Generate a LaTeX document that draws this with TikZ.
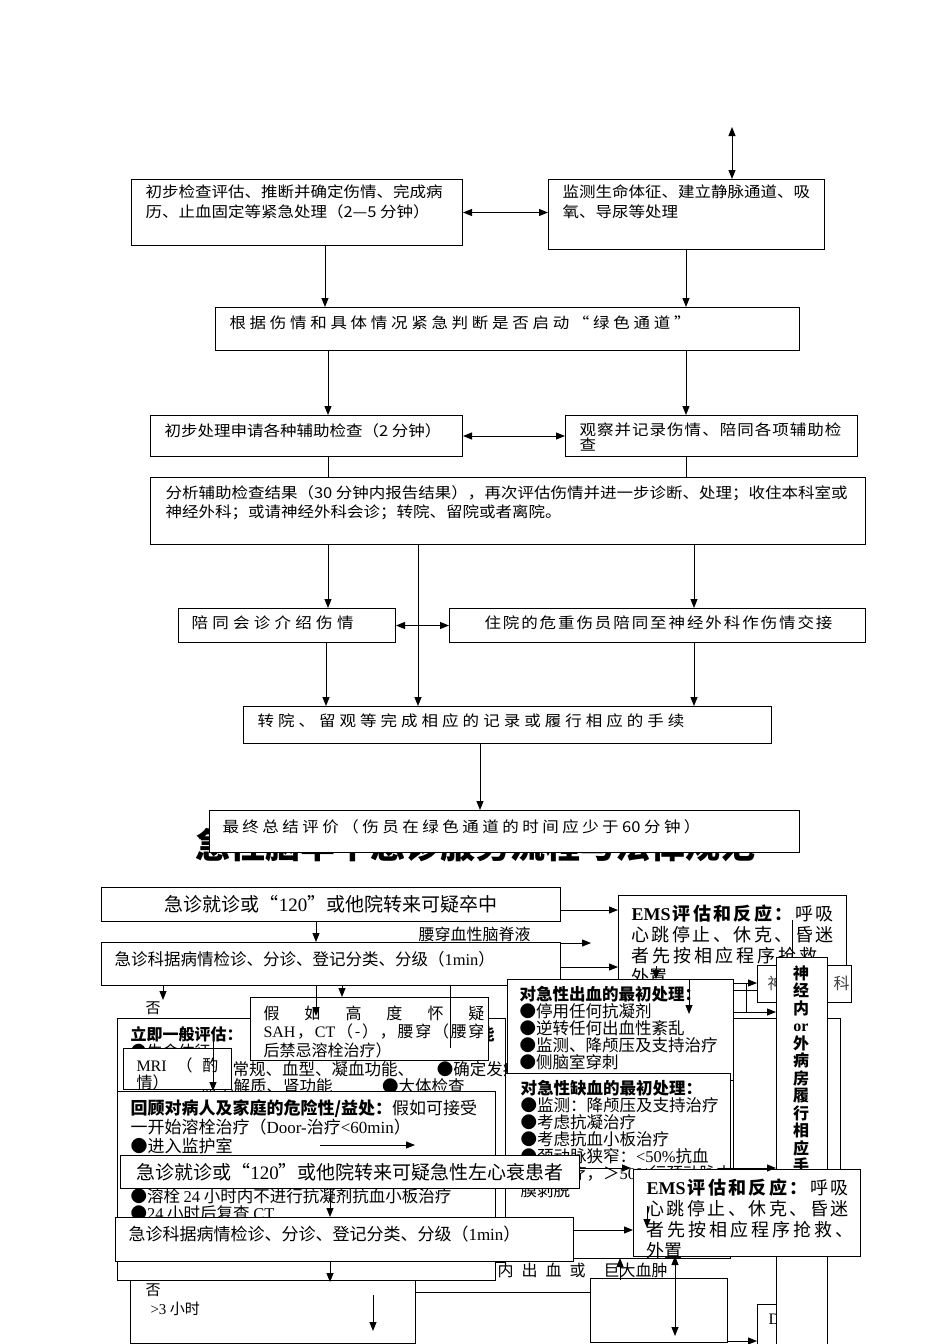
\documentclass[tikz,border=0pt]{standalone}
\usepackage{fontspec}
\setmainfont{Noto Sans CJK SC}
\newfontfamily\cjk[FakeStretch=1.1]{Noto Sans CJK SC}
\newfontfamily\lat{Liberation Serif}
\usetikzlibrary{arrows.meta}
\newcommand\LS[1]{{\lat #1}}
\newcommand\spr[2]{\hbox to #1pt{\sprA#2\relax\unskip}}
\def\sprA#1{\ifx\relax#1\else#1\hfil\expandafter\sprA\fi}
\newcommand\mybox[5]{\node[bx,minimum width={(#4-#2)*1pt},minimum height={(#5-#3)*1pt}] (#1) at (#2,#3) {};}
\begin{document}
\begin{tikzpicture}[x=1pt,y=-1pt,line width=1pt,
 bx/.style={draw,fill=white,inner sep=0,anchor=north west},
 tx/.style={anchor=north west,inner sep=0,align=left},
 ar/.style={-{Triangle[length=9pt,width=7pt]}},
 dar/.style={{Triangle[length=9pt,width=7pt]}-{Triangle[length=9pt,width=7pt]}},
 tf/.style={font=\fontsize{15}{20}\selectfont\cjk},
 fa/.style={font=\fontsize{16}{17}\selectfont},
 fb/.style={font=\fontsize{16.5}{17}\selectfont},
 fe/.style={font=\fontsize{18}{21}\selectfont}]
\useasboundingbox[fill=white] (0,0) rectangle (950,1344);
% title (behind last box of the first chart)
\node[inner sep=0,font=\fontsize{35}{35}\selectfont\bfseries] (title) at (475,845) {急性脑卒中急诊服务流程与法律规范};
% ---------- top chart ----------
\mybox{A}{131}{179}{462}{245}
\node[tx,tf] (At) at (145,184) {初步检查评估、推断并确定伤情、完成病\\历、止血固定等紧急处理（2—5 分钟）};
\mybox{B}{548}{179}{824}{249}
\node[tx,tf] (Bt) at (562,184) {监测生命体征、建立静脉通道、吸\\氧、导尿等处理};
\mybox{C}{215}{307}{799}{350}
\node[tx,tf] (Ct) at (229,315) {\spr{461}{根据伤情和具体情况紧急判断是否启动“绿色通道”}};
\mybox{D}{150}{415}{462}{456}
\node[tx,tf] (Dt) at (164,423) {初步处理申请各种辅助检查（2 分钟）};
\mybox{E}{565}{415}{857}{456}
\node[tx,font=\fontsize{15}{15}\selectfont\cjk] (Et) at (579,422) {\spr{262}{观察并记录伤情、陪同各项辅助检}\\查};
\mybox{F}{150}{477}{865}{544}
\node[tx,font=\fontsize{15}{19}\selectfont\cjk] (Ft) at (165,485) {分析辅助检查结果（30 分钟内报告结果），再次评估伤情并进一步诊断、处理；收住本科室或\\神经外科；或请神经外科会诊；转院、留院或者离院。};
\mybox{G}{178}{608}{395}{642}
\node[tx,tf] (Gt) at (191,615) {\spr{162}{陪同会诊介绍伤情}};
\mybox{H}{449}{608}{865}{642}
\node[tx,tf] (Ht) at (484,615) {\spr{348}{住院的危重伤员陪同至神经外科作伤情交接}};
\mybox{I}{243}{706}{771}{743}
\node[tx,tf] (It) at (257,713) {\spr{427}{转院、留观等完成相应的记录或履行相应的手续}};
\mybox{J}{209}{810}{799}{852}
\node[tx,tf] (Jt) at (222,819) {\spr{478}{最终总结评价（伤员在绿色通道的时间应少于{60}分钟）}};
% top connectors
\coordinate (t0) at (732,127);
\draw[dar] (t0) -- (t0 |- B.north);
\draw[dar] (A.east) -- (A.east -| B.west);
\coordinate (a1) at (325,245); \draw[ar] (a1) -- (a1 |- C.north);
\coordinate (b1) at (686,249); \draw[ar] (b1) -- (b1 |- C.north);
\coordinate (c1) at (328,350); \draw[ar] (c1) -- (c1 |- D.north);
\coordinate (c2) at (686,350); \draw[ar] (c2) -- (c2 |- E.north);
\draw[dar] (D.east) -- (D.east -| E.west);
\coordinate (d1) at (328,456); \draw (d1) -- (d1 |- F.north);
\coordinate (e1) at (686,456); \draw (e1) -- (e1 |- F.north);
\coordinate (f1) at (328,544); \draw[ar] (f1) -- (f1 |- G.north);
\coordinate (f2) at (418,544); \draw[ar] (f2) -- (f2 |- I.north);
\coordinate (f3) at (694,544); \draw[ar] (f3) -- (f3 |- H.north);
\draw[dar] (G.east) -- (G.east -| H.west);
\coordinate (g1) at (326,642); \draw[ar] (g1) -- (g1 |- I.north);
\coordinate (h1) at (694,642); \draw[ar] (h1) -- (h1 |- I.north);
\coordinate (i1) at (480,743); \draw[ar] (i1) -- (i1 |- J.north);
% ---------- bottom chart ----------
\mybox{K}{101}{887}{560}{921}
\node[inner sep=0,font=\fontsize{19}{20}\selectfont] (Kt) at (K.center) {急诊就诊或“\LS{120}”或他院转来可疑卒中};
\node[tx,fa] (ys) at (418,926) {腰穿血性脑脊液};
\mybox{L}{101}{942}{560}{985}
\node[tx,fb] (Lt) at (114,951) {急诊科据病情检诊、分诊、登记分类、分级（\LS{1min}）};
\mybox{M}{618}{895}{846}{990}
\node[tx,fe] (Mt) at (631,904) {\hbox to 202pt{\bfseries\sprA{\LS{EMS}}评估和反应：\relax\mdseries\sprA 呼吸\relax\unskip}\\\spr{202}{心跳停止、休克、昏迷}\\\spr{207}{者先按相应程序抢救、}\\外置};
\coordinate (m2) at (792,920); \draw (m2) -- ++(0,37);
\coordinate (k1) at (560,910); \draw[ar] (k1) -- (k1 -| M.west);
\coordinate (k2) at (316,921); \draw[ar] (k2) -- (k2 |- L.north);
\coordinate (l0) at (560,943); \coordinate (l0e) at (591,943); \draw[ar] (l0) -- (l0e);
\coordinate (l1) at (560,967); \draw[ar] (l1) -- (l1 -| M.west);
\mybox{X}{757}{965}{851}{1002}
\node[tx,fa,text=black!75] (Xt) at (767,976) {\spr{82}{神经外科}};
% general assessment box
\mybox{O}{117}{1018}{505}{1262}
\node[tx,fa] (Ot1) at (130,1026) {\textbf{立即一般评估：}\\●生命体征};
\node[tx,fb] (Ot3) at (232,1061) {常规、血型、凝血功能、\hspace{23pt}●确定发病时间};
\node[tx,fb] (Ot4) at (200,1078) {血电解质、肾功能　　　●大体检查};
\node[tx,fa] (Ot5) at (414,1026) {\textbf{●神经功能}};
% haemorrhage box
\mybox{U}{507}{979}{733}{1080}
\node[tx,fb] (Ut) at (519,986) {\textbf{对急性出血的最初处理：}\\●停用任何抗凝剂\\●逆转任何出血性紊乱\\●监测、降颅压及支持治疗\\●侧脑室穿刺};
\coordinate (m1) at (656,966); \draw[ar] (m1) -- (m1 |- U.north);
\coordinate (u1) at (689,980); \coordinate (u1e) at (689,1014); \draw[ar] (u1) -- (u1e);
\coordinate (u2) at (733,983); \draw[ar] (u2) -- (u2 -| X.west);
\coordinate (u3) at (746,983); \coordinate (u3e) at (746,1012); \draw (u3) -- (u3e);
\coordinate (u4) at (733,1012); \coordinate (u4e) at (776,1012); \draw[ar] (u4) -- (u4e);
% SAH box
\mybox{N}{250}{997}{488}{1060}
\node[tx,font=\fontsize{16}{18.5}\selectfont] (Nt) at (263,1005) {\spr{221}{假如高度怀疑}\\\spr{221}{{\LS{SAH}}，{\LS{CT}}（-），腰穿（腰穿}\\后禁忌溶栓治疗）};
\coordinate (n1) at (316,985); \coordinate (n1e) at (316,1016); \draw[ar] (n1) -- (n1e);
\coordinate (n2) at (342,985); \draw[ar] (n2) -- (n2 |- N.north);
\coordinate (n3) at (450,985); \coordinate (n3e) at (450,1048); \draw (n3) -- (n3e);
\coordinate (n4) at (163,985); \coordinate (n4e) at (163,1000); \draw[ar] (n4) -- (n4e);
\node[tx,font=\fontsize{15}{15}\selectfont] (no1) at (145,1001) {否};
% MRI box
\mybox{P}{123}{1048}{231}{1089}
\node[tx,fa] (Pt) at (136,1057) {\spr{82}{{\LS{MRI}}（酌}\\情）};
% >3h box (behind)
\mybox{T}{130}{1268}{415}{1343}
\node[tx,font=\fontsize{15}{15}\selectfont] (Tt1) at (145,1283) {否};
\node[tx,font=\fontsize{15}{15}\selectfont] (Tt2) at (150,1301) {\LS{>3} 小时};
\coordinate (t1) at (373,1295); \coordinate (t1e) at (373,1331); \draw[ar] (t1) -- (t1e);
\coordinate (t2) at (415,1292); \coordinate (t2e) at (590,1292); \draw (t2) -- (t2e);
% review box
\mybox{Q}{117}{1091}{495}{1280}
\node[tx,font=\fontsize{17}{19}\selectfont] (Qt) at (130,1099) {\textbf{回顾对病人及家庭的危险性/益处：}假如可接受\\一开始溶栓治疗（\LS{Door-}治疗\LS{<60min}）\\●进入监护室};
\node[tx,fb] (Qt2) at (130,1188) {●溶栓 \LS{24} 小时内不进行抗凝剂抗血小板治疗\\●\LS{24} 小时后复查 \LS{CT}};
\coordinate (q1) at (320,1145); \coordinate (q2) at (415,1145); \draw[ar] (q1) -- (q2);
\coordinate (p1) at (213,1035); \draw[ar] (p1) -- (p1 |- Q.north);
% ischaemia box
\mybox{V}{505}{1073}{730}{1258}
\node[tx,fb] (Vt) at (520,1080) {\textbf{对急性缺血的最初处理：}\\●监测：降颅压及支持治疗\\●考虑抗凝治疗\\●考虑抗血小板治疗\\●颈动脉狭窄：\LS{<50\%}抗血\\小板治疗，＞\LS{50\%}行颈动脉内\\膜剥脱};
% right column boxes
\mybox{Z}{733}{1018}{840}{1250}
\mybox{BB}{590}{1278}{727}{1342}
\node[tx,fa] (bt1) at (497,1263) {\spr{88}{内出血或}};
\node[tx,fa] (bt2) at (603,1263) {巨大血肿};
\mybox{DD}{757}{1304}{800}{1350}
\node[tx,font=\fontsize{16}{16}\selectfont\lat] (DDt) at (768,1314) {D};
\coordinate (dd1) at (727,1341); \draw[ar] (dd1) -- (dd1 -| DD.west);
\mybox{W}{776}{957}{827}{1350}
\node[anchor=north,inner sep=0,align=center,font=\fontsize{16}{17.5}\selectfont\bfseries] (Wt) at (801,965) {神\\经\\内\\\LS{or}\\外\\病\\房\\履\\行\\相\\应\\手\\续};
% heart-failure boxes
\mybox{R}{120}{1155}{579}{1188}
\node[inner sep=0,font=\fontsize{19}{20}\selectfont] (Rt) at (R.center) {急诊就诊或“\LS{120}”或他院转来可疑急性左心衰患者};
\mybox{S}{115}{1217}{573}{1261}
\node[tx,font=\fontsize{17}{17}\selectfont] (St) at (128,1225) {急诊科据病情检诊、分诊、登记分类、分级（\LS{1min}）};
\coordinate (r1) at (330,1188); \draw[ar] (r1) -- (r1 |- S.north);
\coordinate (s2) at (330,1261); \coordinate (s2e) at (330,1282); \draw[ar] (s2) -- (s2e);
\mybox{Y}{633}{1169}{860}{1256}
\node[tx,fe] (Yt) at (646,1178) {\hbox to 202pt{\bfseries\sprA{\LS{EMS}}评估和反应：\relax\mdseries\sprA 呼吸\relax\unskip}\\\spr{202}{心跳停止、休克、昏迷}\\\spr{207}{者先按相应程序抢救、}\\外置};
\coordinate (y1) at (647,1206); \coordinate (y1e) at (647,1228); \draw[ar] (y1) -- (y1e);
\coordinate (s1) at (573,1230); \draw[ar] (s1) -- (s1 -| Y.west);
\coordinate (r2) at (579,1168); \coordinate (r2e) at (631,1168); \draw[ar] (r2) -- (r2e);
\coordinate (v1) at (730,1168); \draw[ar] (v1) -- (v1 -| W.west);
\coordinate (y2) at (675,1256); \coordinate (y2e) at (675,1336); \draw[dar] (y2) -- (y2e);
\coordinate (y3) at (620,1280); \coordinate (y3e) at (620,1258); \draw[ar] (y3) -- (y3e);
\end{tikzpicture}
\end{document}
